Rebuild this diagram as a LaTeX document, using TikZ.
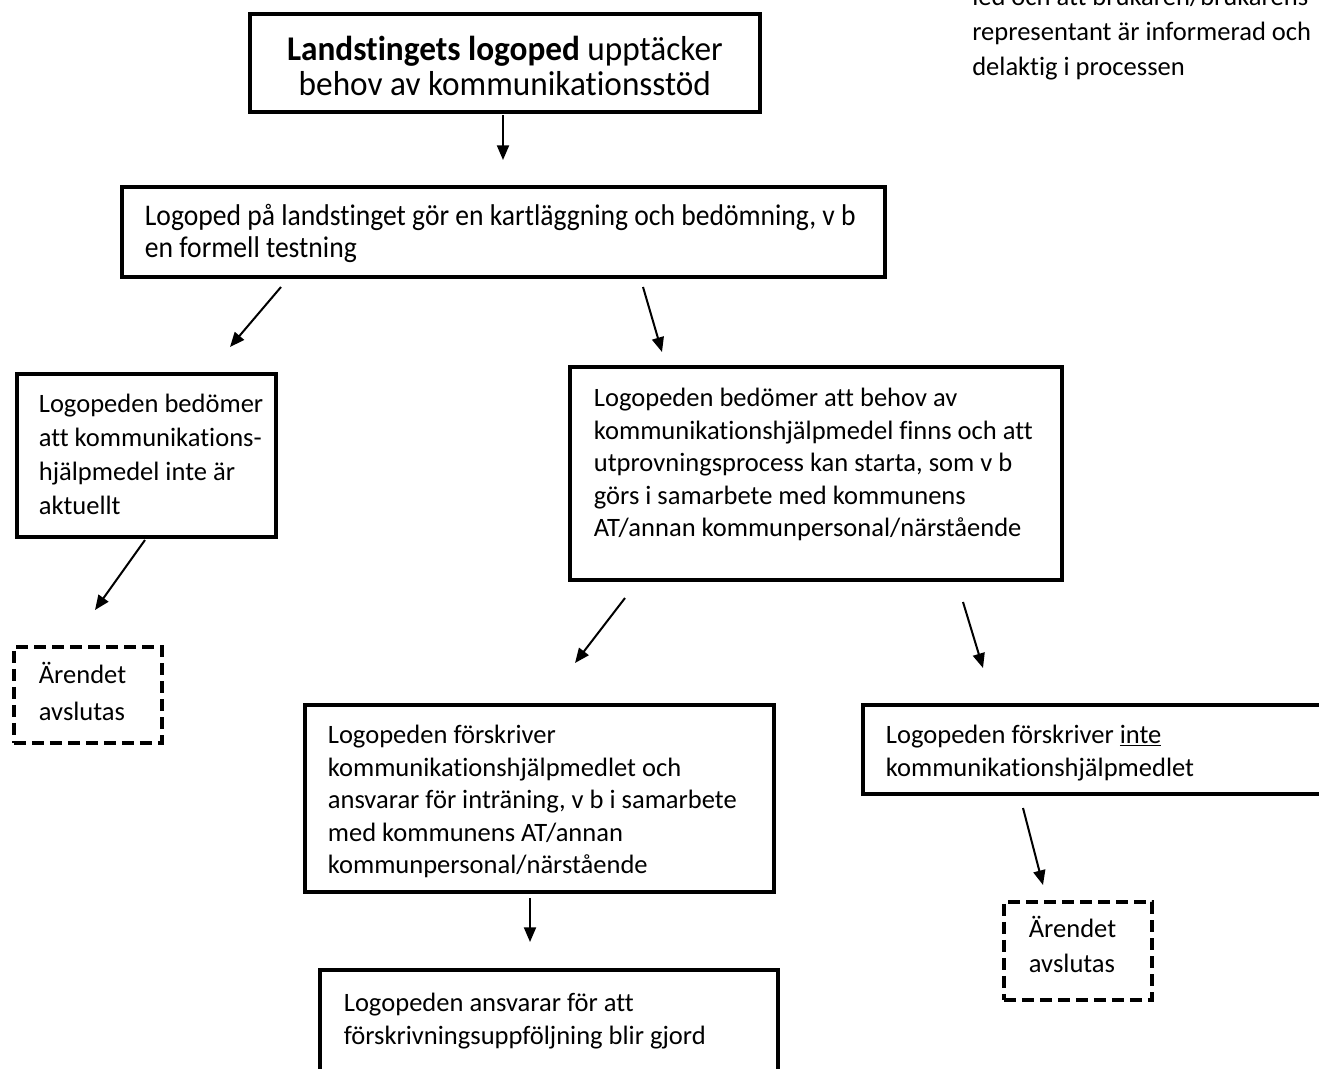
\documentclass[tikz,border=0pt]{standalone}
\usepackage{fontspec}
\setmainfont{Carlito}[Ligatures=NoCommon]
\newfontfamily\condA{Carlito}[FakeStretch=0.96,Ligatures=NoCommon]
\newfontfamily\condB{Carlito}[FakeStretch=0.92,Ligatures=NoCommon]
\usetikzlibrary{arrows.meta}
\newdimen\px \px=0.75pt
\newcommand\tb[3]{\parbox[c][#2\px][t]{#1\px}{\begin{tabular}[t]{@{}l@{}}#3\end{tabular}}}
\newcommand\tbc[3]{\parbox[c][#2\px][t]{#1\px}{\centering\begin{tabular}[t]{@{}c@{}}#3\end{tabular}}}
\begin{document}
\begin{tikzpicture}[x=0.75pt,y=-0.75pt,
 box/.style={draw, line width=2.8pt, anchor=north west, inner sep=0pt},
 dbox/.style={draw, line width=2.8pt, dash pattern=on 9pt off 4.5pt, anchor=north west, inner sep=0pt},
 arr/.style={line width=1.5pt, -{Triangle[length=11pt,width=9pt]}},
 nf/.style={font=\fontsize{19.9pt}{24.4pt}\selectfont},
 lbl/.style={anchor=north west, inner sep=0pt, align=left}]
\useasboundingbox (0,0) rectangle (1319,1068);
\clip (0,0) rectangle (1319,1068);

% note top right
\node[lbl, font=\fontsize{19.9pt}{26.25pt}\selectfont] (note) at (972,-13)
  {led och att brukaren/brukarens\\representant är informerad och\\delaktig i processen};

% boxes
\node[box, inner xsep=10\px, inner ysep=22\px, font=\condA\fontsize{26pt}{26.25pt}\selectfont] (b1) at (248,12)
  {\tbc{490}{54}{\textbf{Landstingets logoped} upptäcker\\behov av kommunikationsstöd}};
\node[box, inner xsep=23\px, inner ysep=16.6\px, font=\condB\fontsize{22.5pt}{24pt}\selectfont] (b2) at (120,185)
  {\tb{717}{56.8}{Logoped på landstinget gör en kartläggning och bedömning, v b\\en formell testning}};
\node[box, inner xsep=22\px, inner ysep=15\px, font=\fontsize{19.9pt}{25.5pt}\selectfont] (b3) at (15,372)
  {\tb{215}{133}{Logopeden bedömer\\att kommunikations-\\hjälpmedel inte är\\aktuellt}};
\node[box, inner xsep=24\px, inner ysep=17.2\px, nf] (b4) at (568,365)
  {\tb{444}{178.6}{Logopeden bedömer att behov av\\kommunikationshjälpmedel finns och att\\utprovningsprocess kan starta, som v b\\görs i samarbete med kommunens\\AT/annan kommunpersonal/närstående}};
\node[dbox, inner xsep=25\px, inner ysep=11\px, font=\fontsize{19.9pt}{27.75pt}\selectfont] (e1) at (12,645)
  {\tb{98}{74}{Ärendet\\avslutas}};
\node[box, inner xsep=23\px, inner ysep=16\px, nf] (b6) at (303,703)
  {\tb{423}{155}{Logopeden förskriver\\kommunikationshjälpmedlet och\\ansvarar för inträning, v b i samarbete\\med kommunens AT/annan\\kommunpersonal/närstående}};
\node[box, inner xsep=23\px, inner ysep=16\px, nf] (b7) at (861,703)
  {\tb{423}{57}{Logopeden förskriver \underline{inte}\\kommunikationshjälpmedlet}};
\node[dbox, inner xsep=25\px, inner ysep=11\px, font=\fontsize{19.9pt}{26.25pt}\selectfont] (e2) at (1002,900)
  {\tb{98}{76}{Ärendet\\avslutas}};
\node[box, inner xsep=24\px, inner ysep=19\px, nf] (b9) at (318,968)
  {\tb{410}{100}{Logopeden ansvarar för att\\förskrivningsuppföljning blir gjord}};

% connector ends
\coordinate (a1s) at (503,115); \coordinate (a1e) at (503,160);
\coordinate (a2s) at (281,287); \coordinate (a2e) at (230,347);
\coordinate (a3s) at (643,287); \coordinate (a3e) at (662,352);
\coordinate (a4s) at (145,540); \coordinate (a4e) at (95,610);
\coordinate (a5s) at (625,598); \coordinate (a5e) at (575,663);
\coordinate (a6s) at (963,602); \coordinate (a6e) at (983,668);
\coordinate (a7s) at (530,898); \coordinate (a7e) at (530,942);
\coordinate (a8s) at (1023,808); \coordinate (a8e) at (1043,885);

\draw[arr] (a1s) -- (a1e);
\draw[arr] (a2s) -- (a2e);
\draw[arr] (a3s) -- (a3e);
\draw[arr] (a4s) -- (a4e);
\draw[arr] (a5s) -- (a5e);
\draw[arr] (a6s) -- (a6e);
\draw[arr] (a7s) -- (a7e);
\draw[arr] (a8s) -- (a8e);
\end{tikzpicture}
\end{document}
